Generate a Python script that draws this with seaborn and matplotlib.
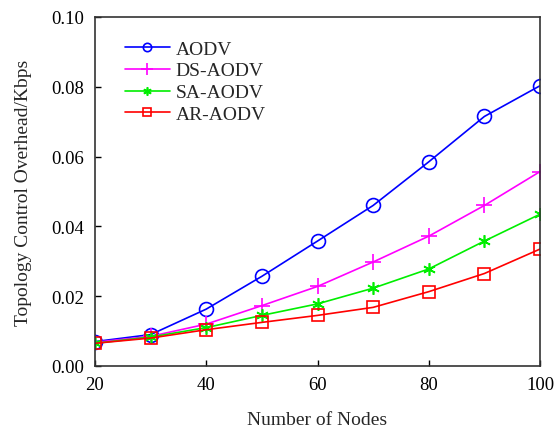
import matplotlib
matplotlib.use("Agg")
import matplotlib.pyplot as plt
import seaborn as sns
import pandas as pd

nodes = [20, 30, 40, 50, 60, 70, 80, 90, 100]
aodv = [0.0070, 0.0090, 0.0163, 0.0257, 0.0358, 0.0460, 0.0585, 0.0715, 0.0803]
ds_aodv = [0.0068, 0.0085, 0.0120, 0.0173, 0.0228, 0.0298, 0.0372, 0.0460, 0.0557]
sa_aodv = [0.0065, 0.0083, 0.0110, 0.0145, 0.0178, 0.0223, 0.0278, 0.0358, 0.0435]
ar_aodv = [0.0065, 0.0080, 0.0104, 0.0125, 0.0145, 0.0168, 0.0213, 0.0265, 0.0335]

protocols = ["AODV", "DS-AODV", "SA-AODV", "AR-AODV"]
series = [aodv, ds_aodv, sa_aodv, ar_aodv]
colors = ["#0000ff", "#ff00ff", "#00ee00", "#ff0000"]
markers = ["o", "+", (6, 2, 0), "s"]
msizes = [10, 12, 9, 9]
legend_msizes = [6, 8, 6, 6]

sns.set_style("white")
plt.rcParams["font.family"] = ["Liberation Serif", "DejaVu Serif"]

df = pd.DataFrame({
    "nodes": nodes * len(protocols),
    "overhead": [v for s in series for v in s],
    "protocol": [p for p in protocols for _ in nodes],
})

fig = plt.figure(figsize=(5.56, 4.31), dpi=100)
ax = fig.add_axes([95 / 556, 1 - 367 / 431, 445 / 556, 349 / 431])

for name, color, mk, ms in zip(protocols, colors, markers, msizes):
    sub = df[df["protocol"] == name]
    sns.lineplot(data=sub, x="nodes", y="overhead", ax=ax, color=color,
                 marker=mk, markersize=ms, markerfacecolor="none",
                 markeredgecolor=color, markeredgewidth=1.2, linewidth=1.2,
                 label=name)

ax.set_xlim(20, 100)
ax.set_ylim(0, 0.1)
ax.set_xticks([20, 40, 60, 80, 100])
ax.set_yticks([0, 0.02, 0.04, 0.06, 0.08, 0.1])
ax.set_yticklabels(["0.00", "0.02", "0.04", "0.06", "0.08", "0.10"])
ax.tick_params(direction="in", length=4, width=1, labelsize=13.5, colors="black",
               left=True, bottom=True, top=False, right=False)
ax.tick_params(axis="y", pad=8)
ax.tick_params(axis="x", pad=7)
for sp in ax.spines.values():
    sp.set_color("#333333")
    sp.set_linewidth(1.2)
ax.set_xlabel("Number of Nodes", fontsize=14, labelpad=13)
ax.set_ylabel("Topology Control Overhead/Kbps", fontsize=14, labelpad=14)

leg = ax.legend(loc="upper left", bbox_to_anchor=(30 / 445, 1 - 23 / 349),
                frameon=False, fontsize=14, handlelength=2.3,
                handletextpad=0.3, labelspacing=0.22, borderaxespad=0.0,
                borderpad=0.0)
for h, ms in zip(leg.legend_handles, legend_msizes):
    h.set_markersize(ms)

fig.savefig("out.png", dpi=100)
